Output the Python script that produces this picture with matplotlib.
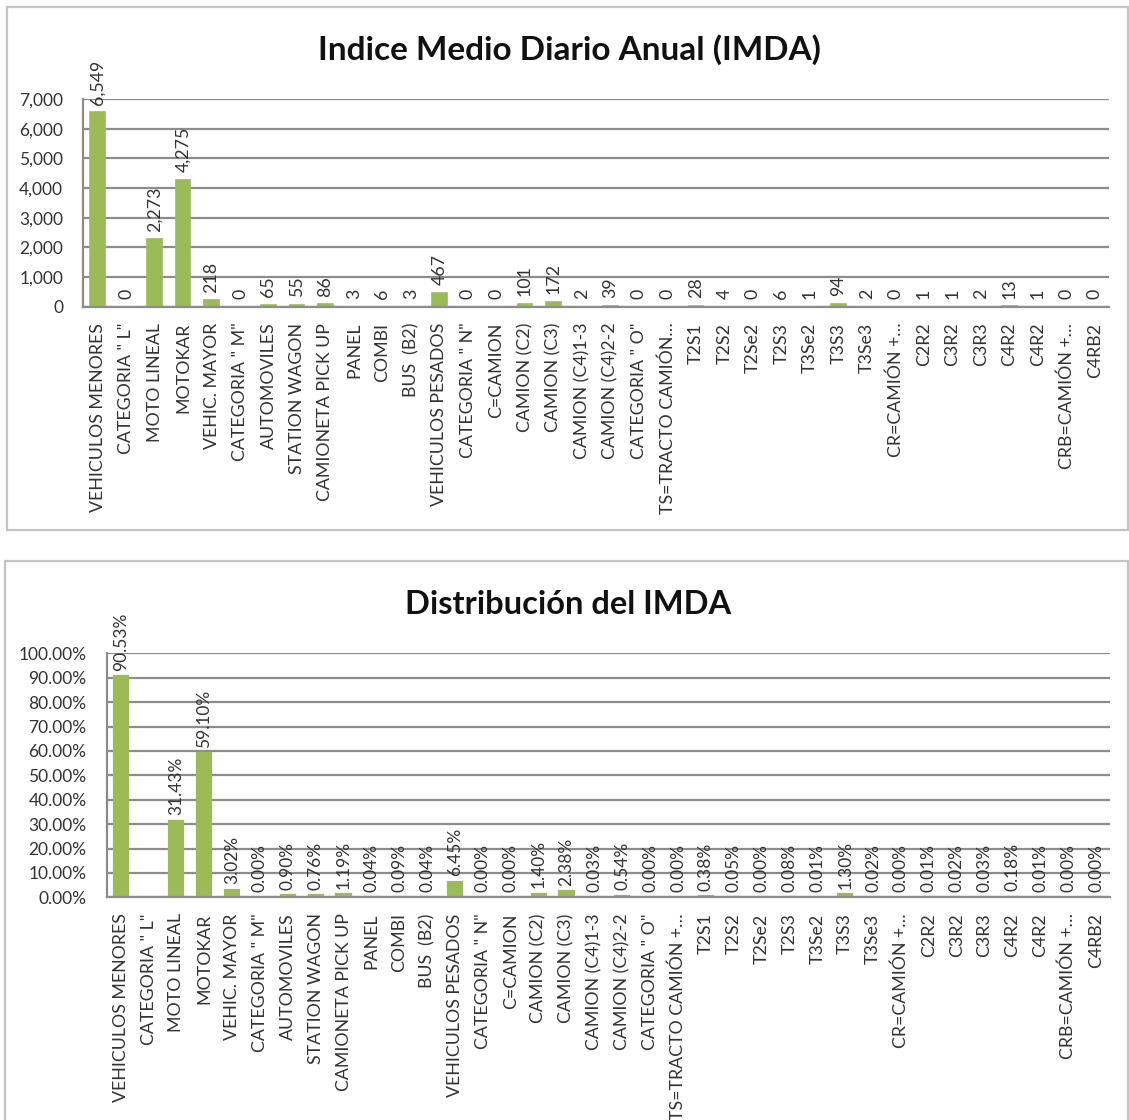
import matplotlib
matplotlib.use("Agg")
import matplotlib.pyplot as plt
from matplotlib.patches import Rectangle
from matplotlib.ticker import FuncFormatter, MultipleLocator

plt.rcParams["font.family"] = ["Lato", "DejaVu Sans"]

categories = [
    "VEHICULOS MENORES", 'CATEGORIA " L"', "MOTO LINEAL", "MOTOKAR",
    "VEHIC. MAYOR", 'CATEGORIA " M"', "AUTOMOVILES", "STATION WAGON",
    "CAMIONETA PICK UP", "PANEL", "COMBI", "BUS  (B2)",
    "VEHICULOS PESADOS", 'CATEGORIA " N"', "C=CAMION", "CAMION (C2)",
    "CAMION (C3)", "CAMION (C4)1-3", "CAMION (C4)2-2", 'CATEGORIA " O"',
    "TS=TRACTO CAMIÓN…", "T2S1", "T2S2", "T2Se2", "T2S3", "T3Se2", "T3S3",
    "T3Se3", "CR=CAMIÓN +…", "C2R2", "C3R2", "C3R3", "C4R2", "C4R2",
    "CRB=CAMIÓN +…", "C4RB2",
]
# the second chart shortens one label differently
categories_pct = list(categories)
categories_pct[20] = "TS=TRACTO CAMIÓN +…"

imda = [6549, 0, 2273, 4275, 218, 0, 65, 55, 86, 3, 6, 3, 467, 0, 0, 101, 172,
        2, 39, 0, 0, 28, 4, 0, 6, 1, 94, 2, 0, 1, 1, 2, 13, 1, 0, 0]

# percentages (None = no value shown)
pct = [90.53, None, 31.43, 59.10, 3.02, 0.00, 0.90, 0.76, 1.19, 0.04, 0.09,
       0.04, 6.45, 0.00, 0.00, 1.40, 2.38, 0.03, 0.54, 0.00, 0.00, 0.38, 0.05,
       0.004, 0.08, 0.01, 1.30, 0.02, 0.00, 0.01, 0.02, 0.03, 0.18, 0.01, 0.00,
       0.004]

GREEN = "#9bbb59"
GRID = "#8c8c8c"
TXT = "#333333"
W, H = 1129, 1120


def fx(px):
    return px / W


def fy(py):
    return 1 - py / H


def style_axes(ax):
    ax.set_xlim(-0.5, len(categories) - 0.5)
    ax.yaxis.grid(True, color=GRID, linewidth=1.6)
    ax.set_axisbelow(True)
    for s in ("top", "right"):
        ax.spines[s].set_visible(False)
    for s in ("left", "bottom"):
        ax.spines[s].set_color(GRID)
        ax.spines[s].set_linewidth(1.6)
    ax.tick_params(axis="both", length=0, colors=TXT)
    ax.tick_params(axis="x", pad=11.5, labelsize=12.8)
    ax.tick_params(axis="y", pad=14.5, labelsize=12.5)


fig = plt.figure(figsize=(W / 100, H / 100), dpi=100)

# chart frames
fig.patches.append(Rectangle((fx(6.5), fy(530)), fx(1121), 523 / H, transform=fig.transFigure,
                             fill=False, edgecolor="#c4c4c4", linewidth=1.6))
fig.patches.append(Rectangle((fx(5), fy(1125)), fx(1123), 564 / H, transform=fig.transFigure,
                             fill=False, edgecolor="#c4c4c4", linewidth=1.6))

x = list(range(len(categories)))

# --- top chart: IMDA ---
ax1 = fig.add_axes([fx(83.3), fy(306.7), fx(1109 - 83.3), 207.7 / H])
lw1 = [1.2 if v > 0 else 0 for v in imda]
ax1.bar(x, imda, width=0.51, color=GREEN, edgecolor=GREEN, linewidth=lw1)
ax1.set_ylim(0, 7000)
ax1.yaxis.set_major_locator(MultipleLocator(1000))
ax1.yaxis.set_major_formatter(FuncFormatter(lambda v, p: f"{v:,.0f}"))
ax1.set_xticks(x)
ax1.set_xticklabels(categories, rotation=90)
style_axes(ax1)
for xi, v in zip(x, imda):
    ax1.annotate(f"{v:,}", (xi, v), xytext=(0, 5.5), textcoords="offset points",
                 rotation=90, ha="center", va="bottom", fontsize=12.8, color=TXT)
fig.text(fx(569), fy(50), "Indice Medio Diario Anual (IMDA)", ha="center", va="center",
         fontsize=24, fontweight="bold", color="#111111")

# --- bottom chart: distribution ---
ax2 = fig.add_axes([fx(106.7), fy(897.3), fx(1110 - 106.7), 244 / H])
vals = [v if v is not None else 0 for v in pct]
lw2 = [1.6 if v > 0 else 0 for v in vals]
ax2.bar(x, vals, width=0.51, color=GREEN, edgecolor=GREEN, linewidth=lw2)
ax2.set_ylim(0, 100)
ax2.yaxis.set_major_locator(MultipleLocator(10))
ax2.yaxis.set_major_formatter(FuncFormatter(lambda v, p: f"{v:.2f}%"))
ax2.set_xticks(x)
ax2.set_xticklabels(categories_pct, rotation=90)
style_axes(ax2)
for xi, v in zip(x, pct):
    if v is None:
        continue
    ax2.annotate(f"{v:.2f}%", (xi, v), xytext=(0, 4), textcoords="offset points",
                 rotation=90, ha="center", va="bottom", fontsize=12.5, color=TXT)
fig.text(fx(568), fy(605), "Distribución del IMDA", ha="center", va="center",
         fontsize=23.5, fontweight="bold", color="#111111")

fig.savefig("out.png", dpi=100)
